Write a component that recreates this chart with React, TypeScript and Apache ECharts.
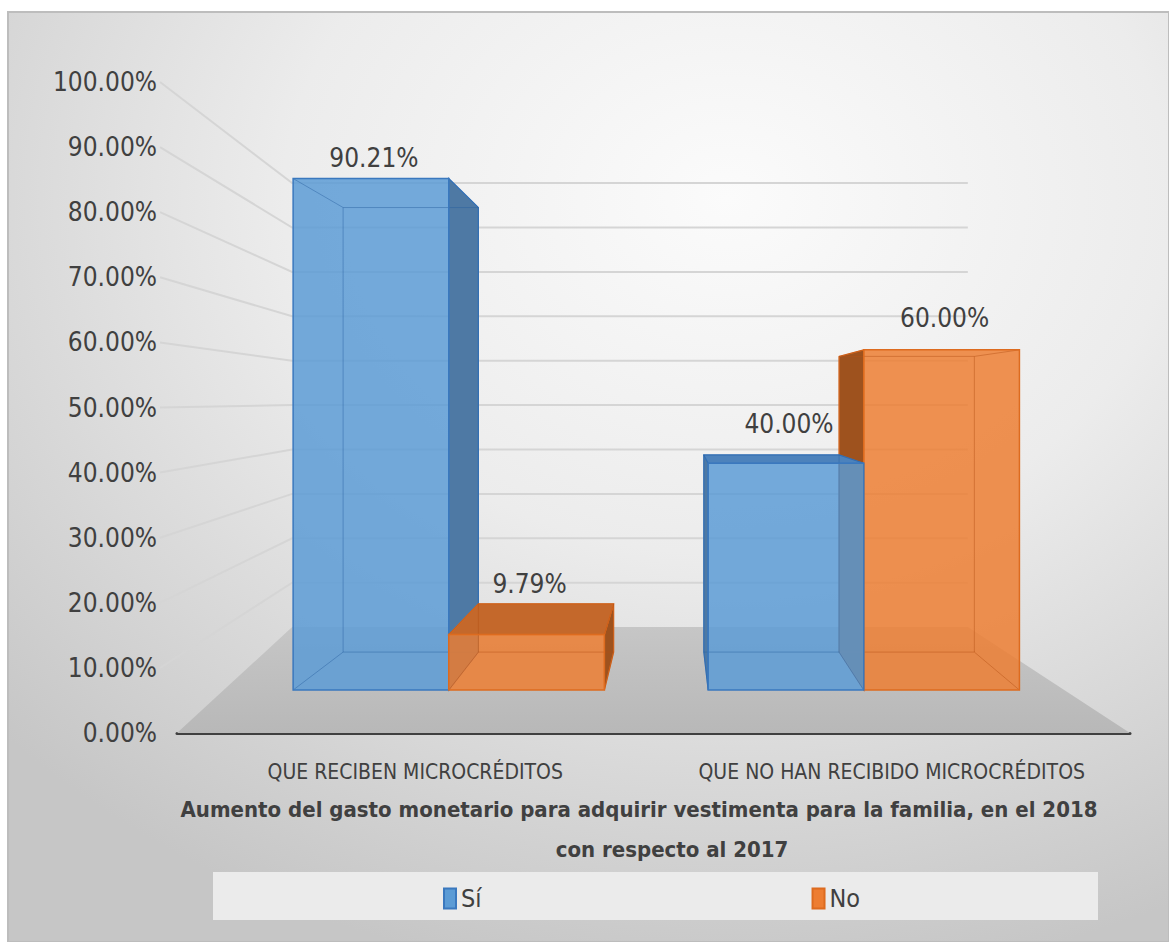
import React, { useEffect, useRef } from 'react';
import * as echarts from 'echarts';

const categories = ['QUE RECIBEN MICROCRÉDITOS', 'QUE NO HAN RECIBIDO MICROCRÉDITOS'];
const seriesNames = ['Sí', 'No'];
const siValues = [90.21, 40.0];
const noValues = [9.79, 60.0];
const yTicks = [0, 10, 20, 30, 40, 50, 60, 70, 80, 90, 100];
const titleLines = [
  'Aumento del gasto monetario para adquirir vestimenta para la familia, en el 2018',
  'con respecto al 2017',
];

const FONT = "'Liberation Sans Narrow', 'Arial Narrow', 'DejaVu Sans Condensed', sans-serif";

// perspective parameters
const VX = 675;
const VY = 400;
const SF = 0.871; // bar front plane
const SB = 0.757; // bar back plane
const SW = 0.682; // back wall
const VXL = 539;
const VXR = 620;

const COLORS: Record<string, any> = {
  'Sí': { front: '#5B9BD5', side: '#4E79A4', top: '#4C82BC', edge: '#3A78BE', inner: 'rgba(40,95,160,0.45)' },
  'No': { front: '#ED7D31', side: '#9E521E', top: '#C4682B', edge: '#DD6B1F', inner: 'rgba(180,80,20,0.45)' },
};

function P(x: number, y: number, s: number) {
  return [VX + (x - VX) * s, VY + (y - VY) * s];
}

function makeBarRender(name: string) {
  return (params: any, api: any) => {
    const cat = api.value(0);
    const val = api.value(1);
    const top = api.coord([cat, val]);
    const base = api.coord([cat, 0]);
    const band = api.size([1, 0])[0];
    const bw = band * 0.375;
    const xl = name === 'Sí' ? top[0] - bw : top[0];
    const xr = xl + bw;
    const yT = top[1];
    const yB = base[1];
    const F: any = { tl: P(xl, yT, SF), tr: P(xr, yT, SF), br: P(xr, yB, SF), bl: P(xl, yB, SF) };
    const B: any = { tl: P(xl, yT, SB), tr: P(xr, yT, SB), br: P(xr, yB, SB), bl: P(xl, yB, SB) };
    const c = COLORS[name];
    const cxF = (F.tl[0] + F.tr[0]) / 2;
    const zb = Math.round((1000 - Math.abs(cxF - VX)) * 10);
    const children: any[] = [];
    const side = cxF < VX ? [F.tr, B.tr, B.br, F.br] : [F.tl, B.tl, B.bl, F.bl];
    children.push({ type: 'polygon', shape: { points: side }, style: { fill: c.side, stroke: c.edge, lineWidth: 1.2 }, z2: zb + 1 });
    if (yT > VY) {
      children.push({ type: 'polygon', shape: { points: [F.tl, F.tr, B.tr, B.tl] }, style: { fill: c.top, stroke: c.edge, lineWidth: 1.2 }, z2: zb + 2 });
    }
    children.push({ type: 'polygon', shape: { points: [F.tl, F.tr, F.br, F.bl] }, style: { fill: c.front, opacity: 0.84 }, z2: zb + 3 });
    children.push({ type: 'polygon', shape: { points: [F.tl, F.tr, F.br, F.bl] }, style: { fill: null, stroke: c.edge, lineWidth: 1.5 }, z2: zb + 5 });
    children.push({ type: 'polyline', shape: { points: [B.tl, B.tr, B.br, B.bl, B.tl] }, style: { stroke: c.inner, lineWidth: 1, fill: null }, z2: zb + 4 });
    ['tl', 'tr', 'br', 'bl'].forEach((k) => {
      children.push({ type: 'line', shape: { x1: F[k][0], y1: F[k][1], x2: B[k][0], y2: B[k][1] }, style: { stroke: c.inner, lineWidth: 1 }, z2: zb + 4 });
    });
    const midY = VY + (yT - VY) * (SF + SB) / 2;
    children.push({
      type: 'text', x: cxF + 3, y: midY - 35, z2: 100000,
      style: { text: val.toFixed(2) + '%', fill: '#404040', fontSize: 26, fontFamily: FONT, align: 'center', verticalAlign: 'middle' },
    });
    return { type: 'group', children };
  };
}

function renderWall(params: any, api: any) {
  const v = api.value(1);
  const band = api.size([1, 0])[0];
  const p0 = api.coord([0, v]);
  const p1 = api.coord([1, v]);
  const xFL = p0[0] - band / 2;
  const xFR = p1[0] + band / 2;
  const yF = p0[1];
  const yBk = VY + (yF - VY) * SW;
  const xBL = VXL + (xFL - VXL) * SW;
  const xBR = VXR + (xFR - VXR) * SW;
  if (v === 0) {
    return {
      type: 'polygon',
      shape: { points: [[xFL, yF], [xBL, yBk], [xBR, yBk], [xFR, yF]] },
      style: { fill: new echarts.graphic.LinearGradient(0, 0, 0, 1, [{ offset: 0, color: '#c6c6c6' }, { offset: 1, color: '#b8b8b8' }]) },
    };
  }
  return {
    type: 'polyline',
    shape: { points: [[xFL - 17, yF], [xBL, yBk], [xBR, yBk]] },
    style: { stroke: '#d5d5d5', lineWidth: 2, fill: null },
  };
}

export default function App() {
  const ref = useRef<HTMLDivElement>(null);
  useEffect(() => {
    if (!ref.current) return;
    const chart = echarts.init(ref.current, null, { renderer: 'svg' });
    const titleStyle = { fontSize: 22, fontWeight: 'bold', fontFamily: FONT, color: '#404040' };
    const option: any = {
      animation: false,
      title: [
        { text: titleLines[0], left: 634, top: 793, textAlign: 'center', textStyle: titleStyle },
        { text: titleLines[1], left: 667, top: 833, textAlign: 'center', textStyle: titleStyle },
      ],
      graphic: {
        elements: [
          {
            type: 'rect', z: -10, silent: true,
            shape: { x: 8, y: 12, width: 1161, height: 930 },
            style: {
              fill: new echarts.graphic.RadialGradient(0.62, 0.2, 0.85, [
                { offset: 0, color: '#fbfbfb' },
                { offset: 0.45, color: '#ececec' },
                { offset: 1, color: '#c6c6c6' },
              ]),
              stroke: '#bdbdbd', lineWidth: 2,
            },
          },
          {
            type: 'rect', z: -5, silent: true,
            shape: { x: 213, y: 872, width: 885, height: 48 },
            style: { fill: '#ebebeb' },
          },
        ],
      },
      legend: {
        data: seriesNames,
        left: 438, top: 881,
        icon: 'rect', itemWidth: 12, itemHeight: 20, itemGap: 330,
        textStyle: { fontSize: 25, fontFamily: FONT, color: '#404040' },
      },
      grid: { left: 177, right: 39, top: 82, bottom: 209 },
      xAxis: {
        type: 'category', data: categories,
        axisLine: { lineStyle: { color: '#404040', width: 3 } },
        axisTick: { show: false },
        axisLabel: { interval: 0, fontSize: 21, fontFamily: FONT, color: '#404040', margin: 28 },
        splitLine: { show: false },
      },
      yAxis: {
        type: 'value', min: 0, max: 100, interval: 10,
        axisLine: { show: false }, axisTick: { show: false },
        splitLine: { show: false },
        axisLabel: { formatter: (v: number) => v.toFixed(2) + '%', fontSize: 26, fontFamily: FONT, color: '#404040', margin: 20 },
      },
      series: [
        { name: 'wall', type: 'custom', z: 1, silent: true, renderItem: renderWall, data: yTicks.map((v) => [0, v]) },
        { name: seriesNames[0], type: 'custom', z: 3, renderItem: makeBarRender('Sí'), itemStyle: { color: '#5B9BD5', borderColor: '#3A78BE', borderWidth: 1 }, data: siValues.map((v, i) => [i, v]) },
        { name: seriesNames[1], type: 'custom', z: 3, renderItem: makeBarRender('No'), itemStyle: { color: '#ED7D31', borderColor: '#DD6B1F', borderWidth: 1 }, data: noValues.map((v, i) => [i, v]) },
      ],
    };
    chart.setOption(option);
    return () => chart.dispose();
  }, []);
  return <div ref={ref} style={{ position: 'absolute', left: 0, top: 0, width: 1169, height: 942 }} />;
}
